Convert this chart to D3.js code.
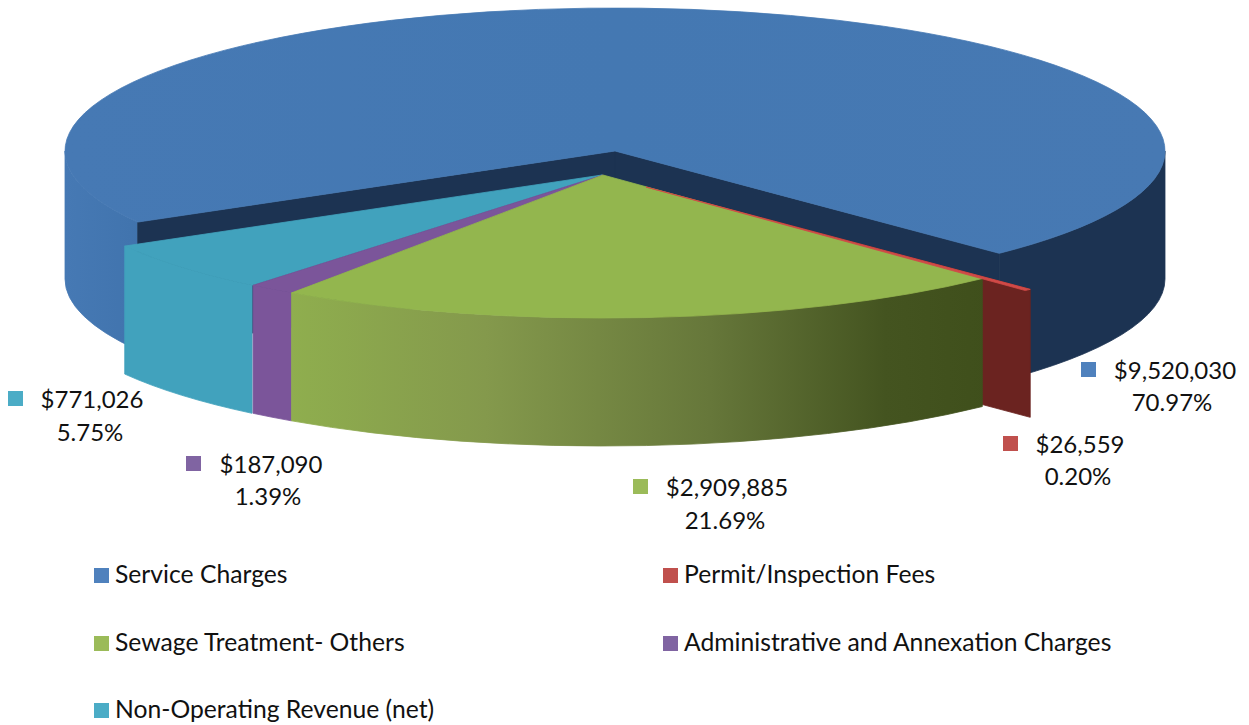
<!DOCTYPE html>
<html><head><meta charset="utf-8">
<script src="https://cdn.jsdelivr.net/npm/d3@7/dist/d3.min.js"></script>
<style>html,body{margin:0;background:#fff}svg{display:block}text{font-family:Lato,"Open Sans",sans-serif;fill:#111}</style>
</head><body><div id="c"></div>
<script>
const categories=["Service Charges","Permit/Inspection Fees","Sewage Treatment- Others","Administrative and Annexation Charges","Non-Operating Revenue (net)"];
const values=[9520030,26559,2909885,187090,771026];
const legendColors=["#4f81bd","#c0504d","#9bbb59","#8064a2","#4bacc6"];
const topColors=["#4679b3","#d04a48","#93b64e","#7b559a","#41a2bd"];

const W=1249,H=725,RX=550,RY=143,DEPTH=128;
const apexes=[[615,151],[646,187],[603,175],[603,175],[602,175]];
const labelPos=[[1081,1175,371,1172,403],[1003,1080,445,1078,477],[633,727,488,725,521],[186,271,465,268,497],[8,92,400,90,433]];
const legendPos=[[94,575],[663,575],[94,643],[663,643],[94,710]];

const svg=d3.select("#c").append("svg").attr("width",W).attr("height",H);
const defs=svg.append("defs");
function grad(id,x1,x2,stops){
  const g=defs.append("linearGradient").attr("id",id).attr("gradientUnits","userSpaceOnUse")
    .attr("x1",x1).attr("x2",x2).attr("y1",0).attr("y2",0);
  stops.forEach(s=>g.append("stop").attr("offset",s[0]).attr("stop-color",s[1]));
  return `url(#${id})`;
}
const mainSide=grad("gMain",65,1166,[[0,"#4679b4"],[.06,"#4174ae"],[.4,"#1c3352"],[1,"#1c3352"]]);
const greenSide=grad("gGreen",290,990,[[0,"#8fae4e"],[.28,"#84994c"],[.6,"#66773a"],[.85,"#445420"],[1,"#3f4f1b"]]);
const topMain=grad("gTop",65,1166,[[0,"#4679b4"],[.5,"#4478b2"],[1,"#4779b3"]]);

const rad=d=>d*Math.PI/180;
const arcs=d3.pie().sort(null).value(d=>d).startAngle(rad(240.2)).endAngle(rad(600.2))(values);
const pt=(c,a,dy=0)=>[c[0]+RX*Math.sin(a),c[1]-RY*Math.cos(a)+dy];
const arcTo=(p,large,sweep)=>`A${RX} ${RY} 0 ${large} ${sweep} ${p[0]} ${p[1]}`;

function topPath(c,a0,a1){
  const p0=pt(c,a0),p1=pt(c,a1);
  return `M${c[0]} ${c[1]}L${p0[0]} ${p0[1]}${arcTo(p1,a1-a0>Math.PI?1:0,1)}Z`;
}
function sidePath(c,a0,a1){
  const p0=pt(c,a0),p1=pt(c,a1),q1=pt(c,a1,DEPTH),q0=pt(c,a0,DEPTH);
  return `M${p0[0]} ${p0[1]}${arcTo(p1,0,1)}L${q1[0]} ${q1[1]}${arcTo(q0,0,0)}Z`;
}
function facePath(c,a){
  const p=pt(c,a),q=pt(c,a,DEPTH);
  return `M${c[0]} ${c[1]}L${p[0]} ${p[1]}L${q[0]} ${q[1]}L${c[0]} ${c[1]+DEPTH}Z`;
}
const g=svg.append("g");
const add=(d,f)=>g.append("path").attr("d",d).attr("fill",f).attr("stroke",f).attr("stroke-width",0.8).attr("stroke-linejoin","round");

// Service Charges: not exploded
const s=arcs[0],c0=apexes[0];
add(sidePath(c0,s.startAngle,rad(270)),mainSide);
add(sidePath(c0,rad(450),s.endAngle),mainSide);
add(facePath(c0,s.startAngle),"#1c3352");
add(facePath(c0,s.endAngle),"#1c3352");
add(topPath(c0,s.startAngle,s.endAngle),topMain);

// Permit / Inspection: face goes behind the green slice, its thin top goes over
const r=arcs[1],c1=apexes[1];
add(facePath(c1,r.startAngle),"#6b2320");

// Non-operating, administrative, sewage
const c4=apexes[4],n=arcs[4];
add(sidePath(c4,n.startAngle,n.endAngle),topColors[4]);
add(topPath(c4,n.startAngle,n.endAngle),topColors[4]);
const c3=apexes[3],a=arcs[3];
add(sidePath(c3,a.startAngle,a.endAngle),topColors[3]);
add(topPath(c3,a.startAngle,a.endAngle),topColors[3]);
const c2=apexes[2],t=arcs[2];
add(sidePath(c2,t.startAngle,t.endAngle),greenSide);
add(topPath(c2,t.startAngle,t.endAngle),topColors[2]);
add(topPath(c1,r.startAngle,r.endAngle),topColors[1]);

// data labels
const total=d3.sum(values),fv=d3.format("$,"),fp=d3.format(".2%"),FS=24,LFS=24.7;
values.forEach((v,i)=>{
  const p=labelPos[i];
  svg.append("rect").attr("x",p[0]).attr("y",p[2]-9).attr("width",15).attr("height",15).attr("fill",legendColors[i]);
  svg.append("text").attr("x",p[1]).attr("y",p[2]+8).attr("text-anchor","middle").attr("font-size",FS).text(fv(v));
  svg.append("text").attr("x",p[3]).attr("y",p[4]+8).attr("text-anchor","middle").attr("font-size",FS).text(fp(v/total));
});
// legend
categories.forEach((c,i)=>{
  const p=legendPos[i];
  svg.append("rect").attr("x",p[0]).attr("y",p[1]-7).attr("width",15).attr("height",15).attr("fill",legendColors[i]);
  svg.append("text").attr("x",p[0]+21).attr("y",p[1]+8).attr("font-size",LFS).text(c);
});
</script></body></html>
